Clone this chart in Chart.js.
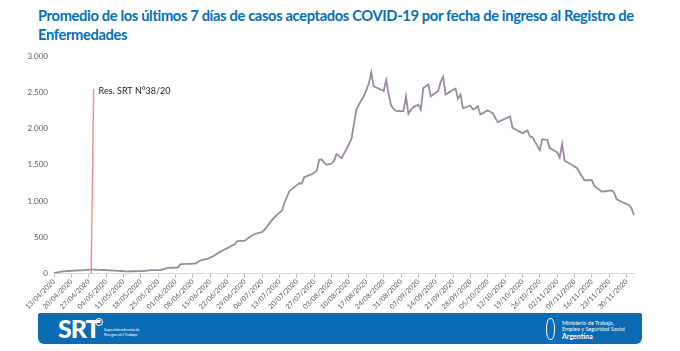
<!DOCTYPE html>
<html>
<head>
<meta charset="utf-8">
<script src="https://cdn.jsdelivr.net/npm/chart.js@4.4.1/dist/chart.umd.min.js"></script>
<style>
  body { margin: 0; width: 680px; height: 351px; background: #fff; position: relative; overflow: hidden; font-family: Lato, "Open Sans", sans-serif; }
  #title { position: absolute; left: 38px; top: 6px; width: 630px; color: #0070c0; font-weight: bold; font-size: 14.7px; letter-spacing: -0.35px; line-height: 19px; }
  #wrap { position: absolute; left: 0; top: 40px; width: 680px; height: 271px; }
  #footer { position: absolute; left: 38px; top: 313px; width: 604px; height: 31px; background: #0b6bb5; border-radius: 2px 2px 6px 6px; color: #fff; }
  #srt { position: absolute; left: 20px; top: 2px; font-size: 25px; font-weight: 900; letter-spacing: -1px; line-height: 26px; }
  #srtc { position: absolute; left: 57px; top: 5px; width: 6px; height: 6px; border: 1px solid #fff; border-radius: 50%; }
  #srtt { position: absolute; left: 66px; top: 14px; font-size: 4px; line-height: 5px; }
  #emb { position: absolute; left: 508px; top: 5px; width: 7px; height: 20px; border: 1px solid #fff; border-radius: 45%; }
  #mint { position: absolute; left: 524px; top: 7px; font-size: 5.5px; line-height: 6px; }
  #mint b { font-size: 7px; line-height: 8px; }
</style>
</head>
<body>
<div id="title">Promedio de los últimos 7 días de casos aceptados COVID-19 por fecha de ingreso al Registro de Enfermedades</div>
<div id="wrap"><canvas id="chart"></canvas></div>
<div id="footer">
  <div id="srt">SRT</div><div id="srtc"></div>
  <div id="srtt">Superintendencia de<br>Riesgos del Trabajo</div>
  <div id="emb"></div>
  <div id="mint">Ministerio de Trabajo,<br>Empleo y Seguridad Social<br><b>Argentina</b></div>
</div>
<script>
  // daily values, 13/04/2020 .. 03/12/2020
  const casos = [
    10, 15, 20, 27, 32, 34, 36, 38, 40, 42, 44, 46, 49, 51, 53, 55, 54, 53, 52, 51,
    50, 48, 46, 44, 42, 40, 38, 36, 34, 32, 32, 33, 33, 34, 35, 35, 36, 37, 46, 47,
    48, 49, 49, 50, 60, 70, 79, 80, 81, 82, 83, 130, 132, 133, 135, 136, 138, 139, 160, 180,
    188, 196, 204, 220, 236, 256, 280, 300, 318, 335, 352, 370, 390, 407, 449, 451, 452, 454, 480, 505,
    525, 546, 555, 565, 574, 606, 650, 699, 740, 778, 810, 840, 870, 977, 1060, 1139, 1165, 1194, 1220, 1245,
    1241, 1333, 1345, 1358, 1370, 1393, 1417, 1569, 1574, 1530, 1500, 1509, 1518, 1556, 1648, 1620, 1593, 1655, 1718, 1787,
    1856, 2060, 2259, 2330, 2390, 2444, 2530, 2620, 2769, 2583, 2565, 2551, 2535, 2519, 2667, 2470, 2320, 2270, 2245, 2242,
    2240, 2241, 2444, 2204, 2260, 2296, 2312, 2329, 2259, 2560, 2583, 2606, 2444, 2468, 2491, 2519, 2643, 2713, 2468, 2490,
    2515, 2535, 2551, 2412, 2468, 2282, 2293, 2304, 2315, 2264, 2280, 2310, 2194, 2212, 2231, 2250, 2231, 2213, 2150, 2088,
    2104, 2120, 2135, 2151, 2167, 2010, 1991, 1972, 1954, 1935, 1954, 1972, 1893, 1879, 1820, 1762, 1704, 1852, 1848, 1843,
    1731, 1711, 1691, 1671, 1602, 1787, 1556, 1538, 1519, 1497, 1476, 1454, 1398, 1343, 1287, 1287, 1287, 1287, 1208, 1182,
    1156, 1130, 1135, 1139, 1144, 1148, 1116, 1023, 1007, 991, 976, 960, 944, 898, 806
  ];
  const startDate = [2020, 3, 13];
  const yTicks = [0, 500, 1000, 1500, 2000, 2500, 3000];
  const resDate = '28/04/2020';
  const resLabel = 'Res. SRT N°38/20';
  const resTop = 2550;

  function pad(n) { return (n < 10 ? '0' : '') + n; }
  const fechas = casos.map((v, i) => {
    const d = new Date(startDate[0], startDate[1], startDate[2] + i);
    return pad(d.getDate()) + '/' + pad(d.getMonth() + 1) + '/' + d.getFullYear();
  });

  const resPlugin = {
    id: 'resLine',
    afterDatasetsDraw(chart) {
      const x = chart.scales.x, y = chart.scales.y, ctx = chart.ctx;
      const i = fechas.indexOf(resDate);
      ctx.save();
      ctx.strokeStyle = '#f58a8c';
      ctx.lineWidth = 1.4;
      ctx.beginPath();
      ctx.moveTo(x.getPixelForValue(i), y.getPixelForValue(0));
      ctx.lineTo(x.getPixelForValue(i + 1), y.getPixelForValue(resTop));
      ctx.stroke();
      ctx.fillStyle = '#222';
      ctx.font = '9px Lato, "Open Sans", sans-serif';
      ctx.textBaseline = 'middle';
      ctx.fillText(resLabel, x.getPixelForValue(i + 3), y.getPixelForValue(resTop) + 2);
      ctx.restore();
    }
  };

  new Chart(document.getElementById('chart'), {
    type: 'line',
    data: {
      labels: fechas,
      datasets: [{
        data: casos,
        borderColor: '#9b8a9f',
        borderWidth: 1.8,
        pointRadius: 0,
        tension: 0,
        fill: false
      }]
    },
    options: {
      responsive: true,
      maintainAspectRatio: false,
      animation: false,
      layout: { padding: { top: 16, right: 46, left: 0, bottom: 0 } },
      plugins: { legend: { display: false }, tooltip: { enabled: false } },
      scales: {
        x: {
          offset: false,
          border: { display: true, color: '#d9d9d9' },
          grid: { drawOnChartArea: false, drawTicks: true, tickLength: 4, color: '#bfbfbf' },
          ticks: {
            autoSkip: false,
            maxRotation: 45,
            minRotation: 45,
            padding: 0,
            color: '#595959',
            font: { size: 7, family: 'Lato, "Open Sans", sans-serif' },
            callback: function (v, i) { return i % 7 === 0 ? this.getLabelForValue(v) : null; }
          }
        },
        y: {
          min: 0,
          max: 3000,
          afterFit: s => { s.width = 54; },
          afterBuildTicks: s => { s.ticks = yTicks.map(v => ({ value: v })); },
          border: { display: false },
          grid: { display: false, drawTicks: false },
          ticks: {
            padding: 6,
            color: '#595959',
            font: { size: 8, family: 'Lato, "Open Sans", sans-serif' },
            callback: v => v.toLocaleString('de-DE')
          }
        }
      }
    },
    plugins: [resPlugin]
  });
</script>
</body>
</html>
